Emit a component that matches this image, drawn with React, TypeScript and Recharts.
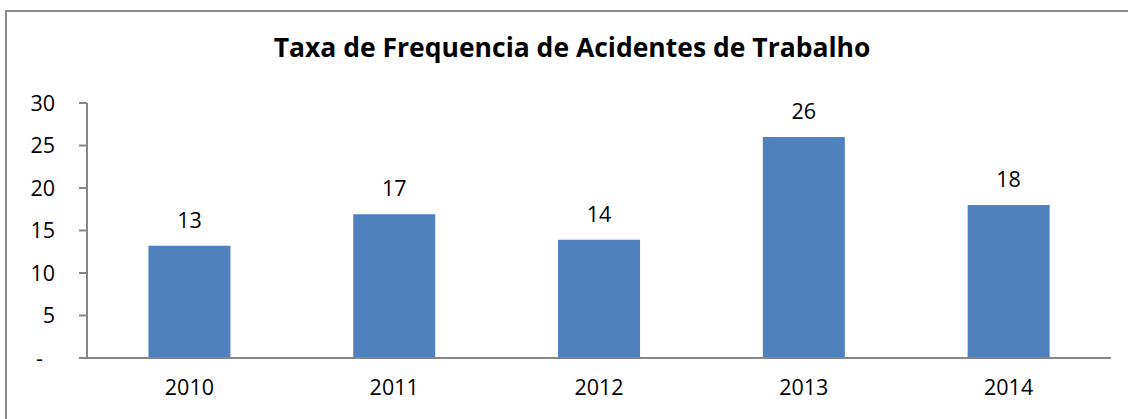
import React from 'react';
import { BarChart, Bar, XAxis, YAxis, LabelList } from 'recharts';

const years = ['2010', '2011', '2012', '2013', '2014'];
const rates = [13.2, 16.9, 13.9, 26.0, 18.0];
const yTicks = [0, 5, 10, 15, 20, 25, 30];
const boundaryTicks = [0, 1, 2, 3, 4, 5];

const data = years.map((year, i) => ({ year, rate: rates[i] }));

const FONT = '"Open Sans", sans-serif';
const AXIS = '#868686';

const YTick = ({ x, y, payload }: any) => (
  <text
    x={payload.value === 0 ? x - 12 : x}
    y={y}
    dy="0.35em"
    textAnchor="end"
    fontFamily={FONT}
    fontSize={21.5}
    fill="#000"
  >
    {payload.value === 0 ? '-' : payload.value}
  </text>
);

export default function App() {
  return (
    <div style={{ position: 'absolute', left: 0, top: 0, width: 1128, height: 419, overflow: 'hidden', background: '#fff' }}>
      <div
        style={{
          position: 'absolute',
          left: 5,
          top: 10,
          width: 1140,
          height: 430,
          border: '2px solid #8c8c8c',
        }}
      />
      <div
        style={{
          position: 'absolute',
          left: 0,
          width: 1144,
          top: 29,
          textAlign: 'center',
          fontFamily: FONT,
          fontWeight: 700,
          fontSize: 26.5,
          color: '#000',
        }}
      >
        Taxa de Frequencia de Acidentes de Trabalho
      </div>
      <div style={{ position: 'absolute', left: 0, top: 0 }}>
        <BarChart
          width={1128}
          height={419}
          data={data}
          margin={{ top: 103, right: 17, bottom: 0, left: 0 }}
          barCategoryGap="30%"
        >
          <XAxis
            xAxisId="bounds"
            type="number"
            domain={[0, 5]}
            ticks={boundaryTicks}
            allowDataOverflow
            height={0}
            axisLine={false}
            tickLine={{ stroke: AXIS, strokeWidth: 2 }}
            tickSize={8}
            tickFormatter={() => ''}
          />
          <XAxis
            dataKey="year"
            height={61}
            axisLine={{ stroke: AXIS, strokeWidth: 2 }}
            tickLine={false}
            tickMargin={16}
            tick={{ fontFamily: FONT, fontSize: 21.5, fill: '#000' }}
          />
          <YAxis
            width={87}
            domain={[0, 30]}
            ticks={yTicks}
            interval={0}
            axisLine={{ stroke: AXIS, strokeWidth: 2 }}
            tickLine={{ stroke: AXIS, strokeWidth: 2 }}
            tickSize={8}
            tickMargin={24}
            tick={<YTick />}
          />
          <Bar dataKey="rate" fill="#4f81bd" isAnimationActive={false}>
            <LabelList
              dataKey="rate"
              position="top"
              offset={18}
              formatter={(v: any) => Math.round(Number(v))}
              style={{ fontFamily: FONT, fontSize: 21.5, fill: '#000' }}
            />
          </Bar>
        </BarChart>
      </div>
    </div>
  );
}
